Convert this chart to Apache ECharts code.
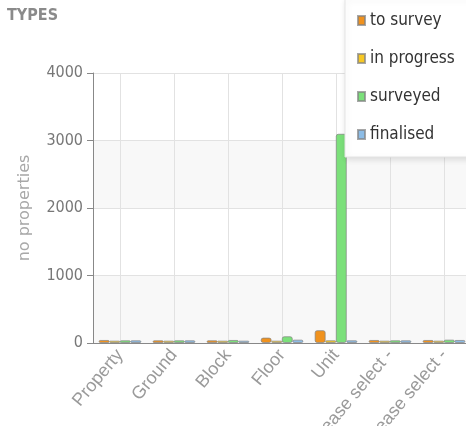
<!DOCTYPE html>
<html>
<head>
<meta charset="utf-8">
<script src="https://cdn.jsdelivr.net/npm/echarts@6/dist/echarts.min.js"></script>
<style>
  html, body { margin: 0; padding: 0; overflow: hidden; background: #fff; }
  #chart { width: 485px; height: 426px; }
</style>
</head>
<body>
<div id="chart"></div>
<script>
  // categories and counts per status
  var categories = ['Property', 'Ground', 'Block', 'Floor', 'Unit', '- Please select -', '- Please select -']
  var toSurvey   = [45, 40, 40, 80, 190, 45, 45]
  var inProgress = [35, 35, 35, 35, 40, 35, 35]
  var surveyed   = [40, 40, 45, 100, 3100, 40, 50]
  var finalised  = [40, 40, 35, 50, 40, 40, 45]
  var yTicks = [0, 1000, 2000, 3000, 4000]

  var seriesNames = ['to survey', 'in progress', 'surveyed', 'finalised']
  var colors = ['#f0921e', '#f7c824', '#7be07a', '#8cbce6']
  var narrow = '"DejaVu Sans Condensed", "Liberation Sans Narrow", "Liberation Sans", sans-serif'

  // helper axis: half steps so grid lines can sit on category centres
  var halfSteps = []
  for (var i = 0; i <= categories.length * 2; i++) halfSteps.push('')

  var chart = echarts.init(document.getElementById('chart'))

  function bar(name, data, color) {
    return {
      name: name,
      type: 'bar',
      data: data,
      barWidth: 11,
      barGap: '-4%',
      itemStyle: {
        color: color,
        borderColor: 'rgba(130,130,130,0.7)',
        borderWidth: 1,
        borderRadius: 2
      }
    }
  }

  chart.setOption({
    animation: false,
    color: colors,
    title: {
      text: 'TYPES',
      left: 2,
      top: 3,
      textStyle: { fontFamily: narrow, fontSize: 16, fontWeight: 'bold', color: '#8a8a8a' }
    },
    legend: {
      orient: 'vertical',
      left: 345,
      top: -2,
      padding: [14, 30, 14, 12],
      itemGap: 21,
      itemWidth: 7,
      itemHeight: 9,
      icon: 'rect',
      backgroundColor: '#fff',
      borderColor: '#e4e4e4',
      borderWidth: 1,
      shadowColor: 'rgba(0,0,0,0.12)',
      shadowBlur: 6,
      shadowOffsetX: 1,
      shadowOffsetY: 2,
      textStyle: { fontFamily: narrow, fontSize: 17, color: '#333' },
      data: seriesNames
    },
    grid: { left: 93, right: 14, top: 73, bottom: 83, containLabel: false, outerBoundsMode: 'none' },
    xAxis: [
      {
        type: 'category',
        data: categories,
        axisLine: { lineStyle: { color: '#888' } },
        axisTick: { alignWithLabel: true, length: 6, lineStyle: { color: '#888' } },
        axisLabel: {
          rotate: 50,
          interval: 0,
          margin: 9,
          color: '#9a9a9a',
          fontSize: 18,
          fontFamily: '"Liberation Sans", Arial, sans-serif'
        },
        splitLine: { show: false }
      },
      {
        type: 'category',
        data: halfSteps,
        boundaryGap: false,
        position: 'bottom',
        axisLine: { show: false },
        axisTick: { show: false },
        axisLabel: { show: false },
        splitLine: {
          show: true,
          interval: function (idx) { return idx % 2 === 1 },
          lineStyle: { color: '#e2e2e2' }
        }
      }
    ],
    yAxis: {
      type: 'value',
      name: 'no properties',
      nameLocation: 'middle',
      nameGap: 60,
      nameTextStyle: { fontFamily: '"DejaVu Sans", sans-serif', fontSize: 16, color: '#a8a8a8' },
      min: yTicks[0],
      max: yTicks[yTicks.length - 1],
      interval: 1000,
      axisLine: { show: true, lineStyle: { color: '#888' } },
      axisTick: { show: true, length: 6, lineStyle: { color: '#888' } },
      axisLabel: {
        fontFamily: narrow,
        fontSize: 16,
        color: '#777',
        margin: 10,
        formatter: function (v) { return String(v) }
      },
      splitLine: { lineStyle: { color: '#e2e2e2' } },
      splitArea: { show: true, areaStyle: { color: ['#f8f8f8', '#ffffff'] } }
    },
    series: [
      bar(seriesNames[0], toSurvey, colors[0]),
      bar(seriesNames[1], inProgress, colors[1]),
      bar(seriesNames[2], surveyed, colors[2]),
      bar(seriesNames[3], finalised, colors[3])
    ]
  })
</script>
</body>
</html>
